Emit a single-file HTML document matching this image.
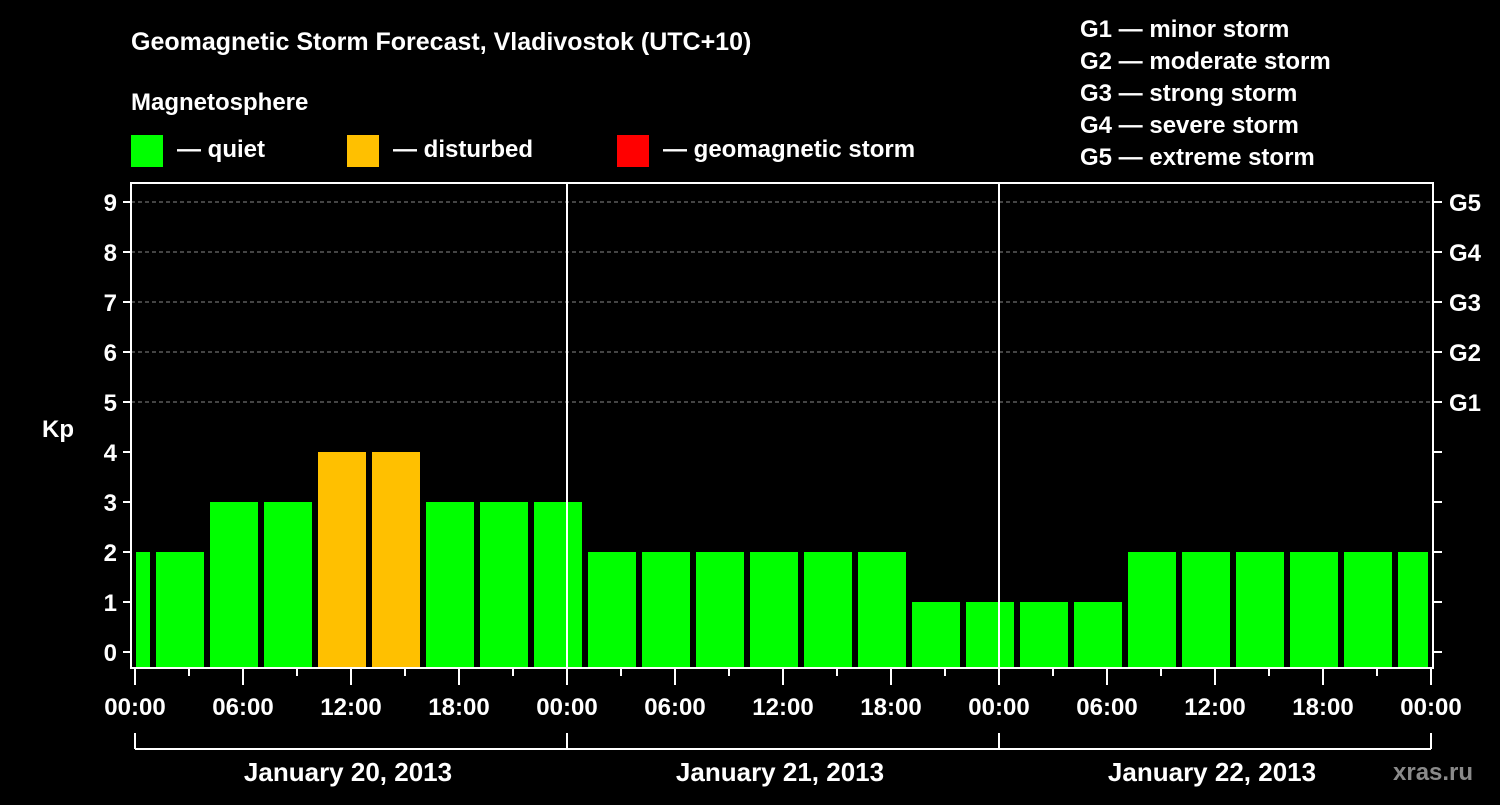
<!DOCTYPE html>
<html><head><meta charset="utf-8"><style>
body{margin:0;background:#000;width:1500px;height:800px;overflow:hidden}
svg text{font-family:"Liberation Sans",sans-serif;font-weight:bold;fill:#fff}
</style></head><body>
<svg id="c" width="1500" height="800" xmlns="http://www.w3.org/2000/svg">
<text x="131" y="50" font-size="25">Geomagnetic Storm Forecast, Vladivostok (UTC+10)</text>
<text x="131" y="110" font-size="24">Magnetosphere</text>
<g><rect x="131" y="135" width="32" height="32" fill="#00ff00"/><text x="177" y="157" font-size="24">— quiet</text></g>
<g><rect x="347" y="135" width="32" height="32" fill="#ffc000"/><text x="393" y="157" font-size="24">— disturbed</text></g>
<g><rect x="617" y="135" width="32" height="32" fill="#ff0000"/><text x="663" y="157" font-size="24">— geomagnetic storm</text></g>
<g font-size="24">
<text x="1080" y="37">G1 — minor storm</text>
<text x="1080" y="69">G2 — moderate storm</text>
<text x="1080" y="101">G3 — strong storm</text>
<text x="1080" y="133">G4 — severe storm</text>
<text x="1080" y="165">G5 — extreme storm</text>
</g>
<text x="42" y="437" font-size="24">Kp</text>
<g id="grid"></g><g id="bars"></g><g id="axes"></g>
<text x="1393" y="780" font-size="24" fill="#888" style="fill:#8a8a8a">xras.ru</text>
</svg>
<script>
const kpValues=[2,2,3,3,4,4,3,3,3,2,2,2,2,2,2,1,1,1,1,2,2,2,2,2,2];
const slotStartHours=[-2,1,4,7,10,13,16,19,22,25,28,31,34,37,40,43,46,49,52,55,58,61,64,67,70];
const dayLabels=["January 20, 2013","January 21, 2013","January 22, 2013"];
const timeLabels=["00:00","06:00","12:00","18:00"];
const gLabels=["G1","G2","G3","G4","G5"];
const NS="http://www.w3.org/2000/svg";
const X0=135,PXH=18,L=131,R=1433,T=183,B=668;
const x=h=>X0+h*PXH, y=v=>652-v*50;
function mk(tag,attrs,parent,txt){const e=document.createElementNS(NS,tag);for(const k in attrs)e.setAttribute(k,attrs[k]);if(txt!=null)e.textContent=txt;document.getElementById(parent).appendChild(e);return e;}
// grid
for(let v=5;v<=9;v++){const e=mk('line',{x1:L,x2:R,y1:y(v),y2:y(v),stroke:'#888','stroke-dasharray':'4,3','stroke-width':1},'grid');

}
// bars
kpValues.forEach((v,i)=>{let x1=x(slotStartHours[i])+3,x2=x(slotStartHours[i]+3)-3;x1=Math.max(x1,X0+1);x2=Math.min(x2,x(72)-3);
const c=v>=5?'#ff0000':v>=4?'#ffc000':'#00ff00';
const e=mk('rect',{x:x1,y:y(v),width:x2-x1,height:B-y(v),fill:c},'bars');

});
// frame
const f=mk('rect',{x:L,y:T,width:R-L,height:B-T,fill:'none',stroke:'#fff','stroke-width':2},'axes');


for(let d=1;d<3;d++){const e=mk('line',{x1:x(24*d),x2:x(24*d),y1:T,y2:B,stroke:'#fff','stroke-width':2},'axes');

}
for(let v=0;v<=9;v++){
mk('line',{x1:L-8,x2:L,y1:y(v),y2:y(v),stroke:'#fff','stroke-width':2},'axes');
mk('line',{x1:R,x2:R+9,y1:y(v),y2:y(v),stroke:'#fff','stroke-width':2},'axes');
const t=mk('text',{x:L-14,y:y(v)+9,'font-size':24,'text-anchor':'end'},'axes',String(v));

}
gLabels.forEach((g,i)=>{const t=mk('text',{x:1449,y:y(5+i)+9,'font-size':24},'axes',g);

});
for(let h=0;h<=72;h+=3){const major=h%6===0;mk('line',{x1:x(h),x2:x(h),y1:B,y2:B+(major?17:8),stroke:'#fff','stroke-width':2},'axes');}
for(let h=0;h<=72;h+=6){const t=mk('text',{x:x(h),y:715,'font-size':24,'text-anchor':'middle'},'axes',timeLabels[(h/6)%4]);

}
mk('line',{x1:x(0),x2:x(72),y1:749,y2:749,stroke:'#fff','stroke-width':2},'axes');
for(let d=0;d<=3;d++)mk('line',{x1:x(24*d),x2:x(24*d),y1:733,y2:749,stroke:'#fff','stroke-width':2},'axes');
dayLabels.forEach((s,d)=>{const t=mk('text',{x:x(24*d+12)-3,y:781,'font-size':26,'text-anchor':'middle'},'axes',s);

});
</script>
</body></html>
